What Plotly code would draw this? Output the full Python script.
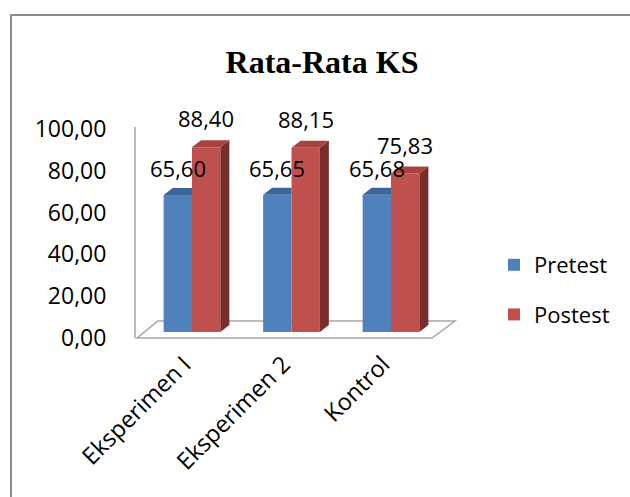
import plotly.graph_objects as go

# ---- data ----
categories = ["Eksperimen I", "Eksperimen 2", "Kontrol"]
pretest = [65.60, 65.65, 65.68]
postest = [88.40, 88.15, 75.83]
series_names = ["Pretest", "Postest"]
y_ticks = [0, 20, 40, 60, 80, 100]
y_tick_labels = ["0,00", "20,00", "40,00", "60,00", "80,00", "100,00"]

def fmt(v):
    return f"{v:.2f}".replace(".", ",")

# ---- styling / geometry (pixel layout) ----
W, H = 630, 497
PL, PR, PT, PB = 132, 461, 100, 350          # plot area in pixels
CAT0_PX, CAT_STEP_PX = 192, 99.5            # category centre and spacing (px)
ZERO_PX, PX_PER_UNIT = 332, 2.09            # bar baseline and scale
AXIS_ZERO_PX = 338                          # tick-label baseline (front of floor)
LABEL_SHIFT_PX = 8                          # category labels sit left of bar centres

def px2x(px):
    return (px - CAT0_PX) / CAT_STEP_PX

def px2v(py):
    return (ZERO_PX - py) / PX_PER_UNIT

BAR_W = 0.285
DX = 9 / CAT_STEP_PX       # 3D depth in x units
DY = 7 / PX_PER_UNIT       # 3D depth in value units

BLUE, BLUE_TOP = "#4F81BD", "#3B6699"
RED, RED_TOP, RED_SIDE = "#C0504D", "#A8433F", "#7A2E2C"
GRAY = "#A6A6A6"
FONT = "Open Sans"

xs = list(range(len(categories)))

fig = go.Figure()
fig.add_trace(go.Bar(x=xs, y=pretest, name=series_names[0], width=BAR_W,
                     offset=-BAR_W, marker=dict(color=BLUE, line=dict(width=0)),
                     legendgroup="a", hoverinfo="skip"))
fig.add_trace(go.Bar(x=xs, y=postest, name=series_names[1], width=BAR_W,
                     offset=0, marker=dict(color=RED, line=dict(width=0)),
                     legendgroup="b", hoverinfo="skip"))

shapes = []
annotations = []

def poly(pts, color, layer="above"):
    path = "M " + " L ".join(f"{x},{y}" for x, y in pts) + " Z"
    return dict(type="path", path=path, xref="x", yref="y", fillcolor=color,
                line=dict(width=0), layer=layer)

# floor and wall (drawn below bars)
fx0f, fx1f = px2x(137), px2x(432)
fx0b, fx1b = px2x(158), px2x(455)
fvf, fvb = px2v(338), px2v(321)
shapes.append(dict(type="path",
                   path=f"M {fx0f},{fvf} L {fx1f},{fvf} L {fx1b},{fvb} L {fx0b},{fvb} Z",
                   xref="x", yref="y", line=dict(color=GRAY, width=1.5),
                   fillcolor="rgba(0,0,0,0)", layer="below"))
shapes.append(dict(type="line", xref="x", yref="y", x0=px2x(135), x1=px2x(135),
                   y0=fvf, y1=px2v(127), line=dict(color=GRAY, width=1.5), layer="below"))

for i, x in enumerate(xs):
    # blue top (back-right part hidden behind red bar)
    vb = pretest[i]
    x0 = x - BAR_W
    shapes.append(poly([(x0, vb), (x, vb), (x, vb + DY), (x0 + DX, vb + DY)], BLUE_TOP))
    # red top + side
    vr = postest[i]
    x1 = x + BAR_W
    shapes.append(poly([(x, vr), (x1, vr), (x1 + DX, vr + DY), (x + DX, vr + DY)], RED_TOP))
    shapes.append(poly([(x1, 0), (x1, vr), (x1 + DX, vr + DY), (x1 + DX, DY)], RED_SIDE))
    # data labels
    annotations.append(dict(x=x - BAR_W / 2, y=vb, xref="x", yref="y", text=fmt(vb),
                            showarrow=False, yshift=27, yanchor="middle",
                            font=dict(family=FONT, size=22, color="#000")))
    annotations.append(dict(x=x + BAR_W / 2, y=vr, xref="x", yref="y", text=fmt(vr),
                            showarrow=False, yshift=29, yanchor="middle",
                            font=dict(family=FONT, size=22, color="#000")))

# outer frame
def pxp(px):
    return (px - PL) / (PR - PL)

def pyp(py):
    return (PB - py) / (PB - PT)

shapes.append(dict(type="rect", xref="paper", yref="paper",
                   x0=pxp(11), x1=pxp(660), y0=pyp(530), y1=pyp(15),
                   line=dict(color="#8C8C8C", width=2), fillcolor="rgba(0,0,0,0)",
                   layer="below"))

d = LABEL_SHIFT_PX / CAT_STEP_PX
fig.update_layout(
    width=W, height=H,
    margin=dict(l=PL, r=W - PR, t=PT, b=H - PB, autoexpand=False),
    paper_bgcolor="white", plot_bgcolor="rgba(0,0,0,0)",
    barmode="overlay",
    title=dict(text="Rata-Rata KS", x=322 / W, xanchor="center",
               y=1 - 62 / H, yanchor="middle",
               font=dict(family="Liberation Serif", size=32, color="#000", weight="bold")),
    xaxis=dict(range=[px2x(PL), px2x(PR)], showgrid=False, zeroline=False,
               showline=False, showticklabels=False, ticks=""),
    xaxis2=dict(overlaying="x", anchor="free", position=pyp(345), side="bottom",
                range=[px2x(PL) + d, px2x(PR) + d], tickvals=xs, ticktext=categories,
                tickangle=-45, showgrid=False, zeroline=False, showline=False,
                ticks="", tickfont=dict(family=FONT, size=23.5, color="#000")),
    yaxis=dict(range=[px2v(PB), px2v(PT)], showgrid=False, zeroline=False,
               showline=False, showticklabels=False, ticks=""),
    yaxis2=dict(overlaying="y", side="left",
                range=[(AXIS_ZERO_PX - PB) / PX_PER_UNIT, (AXIS_ZERO_PX - PT) / PX_PER_UNIT],
                tickvals=y_ticks, ticktext=y_tick_labels, showgrid=False,
                zeroline=False, showline=False, ticks="outside", ticklen=20,
                tickcolor="rgba(0,0,0,0)",
                tickfont=dict(family=FONT, size=23, color="#000")),
    legend=dict(x=pxp(494), xanchor="left", y=pyp(244), yanchor="top",
                font=dict(family=FONT, size=22, color="#000"),
                tracegroupgap=18, bgcolor="rgba(0,0,0,0)"),
    shapes=shapes, annotations=annotations,
)
# dummy traces to activate the label axes
fig.add_trace(go.Scatter(x=[None], y=[None], yaxis="y2", showlegend=False,
                         hoverinfo="skip"))
fig.add_trace(go.Scatter(x=[None], y=[None], xaxis="x2", showlegend=False,
                         hoverinfo="skip"))

fig.write_html("out.html")
